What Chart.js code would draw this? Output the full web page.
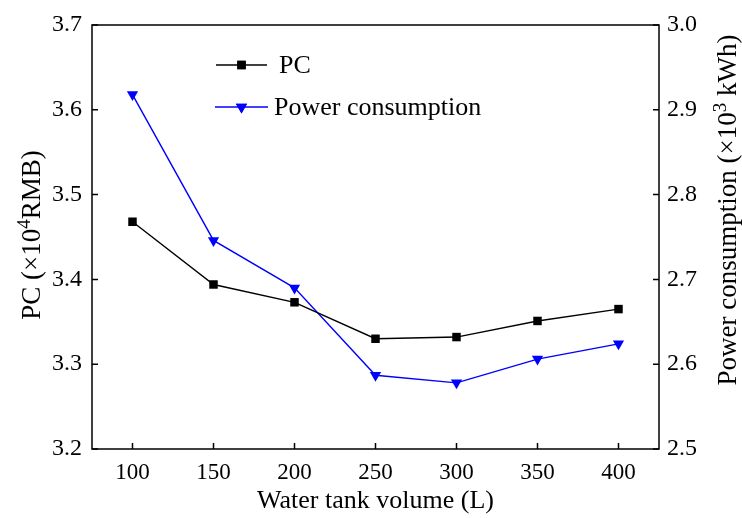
<!DOCTYPE html>
<html>
<head>
<meta charset="utf-8">
<script src="https://cdn.jsdelivr.net/npm/chart.js@4"></script>
<style>
html,body{margin:0;padding:0;background:#fff;}
#wrap{width:742px;height:518px;position:relative;}
</style>
</head>
<body>
<div id="wrap"><canvas id="c"></canvas></div>
<script>
const volumes = [100, 150, 200, 250, 300, 350, 400];
const pcValues = [3.468, 3.394, 3.373, 3.330, 3.332, 3.351, 3.365];
const powerValues = [2.918, 2.746, 2.690, 2.587, 2.578, 2.606, 2.624];
const xTicks = [100, 150, 200, 250, 300, 350, 400];
const leftTicks = [3.2, 3.3, 3.4, 3.5, 3.6, 3.7];
const rightTicks = [2.5, 2.6, 2.7, 2.8, 2.9, 3.0];

const FONT = '"Liberation Serif", "Times New Roman", serif';
const BLUE = '#0000ff';

const pcData = volumes.map((v, i) => ({x: v, y: pcValues[i]}));
const powerData = volumes.map((v, i) => ({x: v, y: powerValues[i]}));

function setTicks(list) {
  return function(scale) { scale.ticks = list.map(v => ({value: v})); };
}

const framePlugin = {
  id: 'frame',
  afterDraw(chart) {
    const {ctx, chartArea: a, scales} = chart;
    ctx.save();
    ctx.strokeStyle = '#000';
    ctx.lineWidth = 1.5;
    ctx.strokeRect(a.left, a.top, a.right - a.left, a.bottom - a.top);
    const tl = 6;
    ctx.beginPath();
    xTicks.forEach(v => {
      const px = scales.x.getPixelForValue(v);
      ctx.moveTo(px, a.bottom); ctx.lineTo(px, a.bottom - tl);
    });
    leftTicks.forEach(v => {
      const py = scales.y.getPixelForValue(v);
      ctx.moveTo(a.left, py); ctx.lineTo(a.left + tl, py);
    });
    rightTicks.forEach(v => {
      const py = scales.y1.getPixelForValue(v);
      ctx.moveTo(a.right, py); ctx.lineTo(a.right - tl, py);
    });
    ctx.stroke();

    // legend
    const items = [
      {label: 'PC', color: '#000', style: 'rect', rot: 0, r: 6, y: a.top + 40, x1: a.left + 124, x2: a.left + 175, tx: a.left + 187},
      {label: 'Power consumption', color: BLUE, style: 'triangle', rot: 180, r: 6.5, y: a.top + 82, x1: a.left + 123, x2: a.left + 176, tx: a.left + 182}
    ];
    items.forEach(it => {
      ctx.strokeStyle = it.color;
      ctx.lineWidth = 1.4;
      ctx.beginPath();
      ctx.moveTo(it.x1, it.y); ctx.lineTo(it.x2, it.y);
      ctx.stroke();
      ctx.fillStyle = it.color;
      Chart.helpers.drawPoint(ctx, {pointStyle: it.style, radius: it.r, rotation: it.rot, borderWidth: 0}, (it.x1 + it.x2) / 2, it.y);
      ctx.fill();
      ctx.fillStyle = '#000';
      ctx.font = '26px ' + FONT;
      ctx.textBaseline = 'middle';
      ctx.textAlign = 'left';
      ctx.fillText(it.label, it.tx, it.y + 1);
    });

    // y titles with superscripts
    function vTitle(cx, cy, parts, f) {
      ctx.save();
      ctx.translate(cx, cy);
      ctx.rotate(-Math.PI / 2);
      ctx.textBaseline = 'alphabetic';
      ctx.textAlign = 'left';
      const sf = Math.round(f * 0.72);
      let total = 0;
      parts.forEach(p => {
        ctx.font = (p.sup ? sf : f) + 'px ' + FONT;
        p.w = ctx.measureText(p.t).width;
        total += p.w;
      });
      let x = -total / 2;
      const base = f * 0.33;
      parts.forEach(p => {
        ctx.font = (p.sup ? sf : f) + 'px ' + FONT;
        ctx.fillStyle = '#000';
        ctx.fillText(p.t, x, p.sup ? base - f * 0.38 : base);
        x += p.w;
      });
      ctx.restore();
    }
    vTitle(31, (a.top + a.bottom) / 2 - 2, [{t: 'PC (×10'}, {t: '4', sup: true}, {t: 'RMB)'}], 27);
    vTitle(727, 210, [{t: 'Power consumption (×10'}, {t: '3', sup: true}, {t: ' kWh)'}], 27);
    ctx.restore();
  }
};

new Chart(document.getElementById('c'), {
  type: 'line',
  data: {
    datasets: [
      {
        label: 'PC', data: pcData, yAxisID: 'y',
        borderColor: '#000', backgroundColor: '#000', borderWidth: 1.4,
        pointStyle: 'rect', pointRadius: 6, pointHoverRadius: 6, pointBorderWidth: 0,
        tension: 0
      },
      {
        label: 'Power consumption', data: powerData, yAxisID: 'y1',
        borderColor: BLUE, backgroundColor: BLUE, borderWidth: 1.4,
        pointStyle: 'triangle', pointRotation: 180, pointRadius: 6.5, pointHoverRadius: 6.5, pointBorderWidth: 0,
        tension: 0
      }
    ]
  },
  options: {
    responsive: true,
    maintainAspectRatio: false,
    animation: false,
    events: [],
    layout: {padding: {top: 25, left: 0, right: 0, bottom: 0}},
    plugins: {legend: {display: false}, tooltip: {enabled: false}},
    scales: {
      x: {
        type: 'linear', position: 'bottom', min: 75, max: 425,
        afterBuildTicks: setTicks(xTicks),
        afterFit(s) { s.height = 69; },
        grid: {display: false, drawTicks: false},
        border: {display: false},
        ticks: {color: '#000', font: {family: FONT, size: 23}, padding: 10, maxRotation: 0},
        title: {display: true, text: 'Water tank volume (L)', color: '#000', font: {family: FONT, size: 26}, padding: {top: 0, bottom: 1}}
      },
      y: {
        type: 'linear', position: 'left', min: 3.2, max: 3.7,
        afterBuildTicks: setTicks(leftTicks),
        afterFit(s) { s.width = 92; },
        grid: {display: false, drawTicks: false},
        border: {display: false},
        ticks: {color: '#000', font: {family: FONT, size: 24}, padding: 10, callback: v => v.toFixed(1)}
      },
      y1: {
        type: 'linear', position: 'right', min: 2.5, max: 3.0,
        afterBuildTicks: setTicks(rightTicks),
        afterFit(s) { s.width = 83; },
        grid: {display: false, drawTicks: false},
        border: {display: false},
        ticks: {color: '#000', font: {family: FONT, size: 24}, padding: 8, callback: v => v.toFixed(1)}
      }
    }
  },
  plugins: [framePlugin]
});
</script>
</body>
</html>
